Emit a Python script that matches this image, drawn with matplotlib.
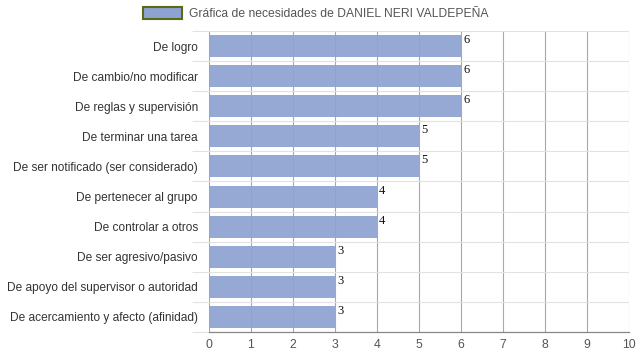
import matplotlib.pyplot as plt
import numpy as np

categorias = [
    "De logro",
    "De cambio/no modificar",
    "De reglas y supervisión",
    "De terminar una tarea",
    "De ser notificado (ser considerado)",
    "De pertenecer al grupo",
    "De controlar a otros",
    "De ser agresivo/pasivo",
    "De apoyo del supervisor o autoridad",
    "De acercamiento y afecto (afinidad)",
]
valores = [6, 6, 6, 5, 5, 4, 4, 3, 3, 3]
serie = "Gráfica de necesidades de DANIEL NERI VALDEPEÑA"

plt.rcParams['font.family'] = ['Liberation Sans', 'DejaVu Sans']

fig = plt.figure(figsize=(6.39, 3.6), dpi=100)
ax = fig.add_axes([209 / 639, 1 - 332 / 360, 420 / 639, 301 / 360])

y = np.arange(len(categorias))
bars = ax.barh(y, valores, height=0.73, color='#8ea3d2', alpha=0.93,
               edgecolor='none', zorder=3, label=serie)

for yi, v in zip(y, valores):
    ax.text(v + 0.05, yi - 0.2, str(v), fontsize=9, family='Liberation Serif',
            color='#111111', va='center', ha='left', zorder=5)

ax.set_xlim(0, 10)
ax.set_ylim(len(categorias) - 0.5, -0.5)
ax.set_xticks(range(11))
ax.set_yticks(y)
ax.set_yticklabels(categorias, fontsize=8.6, color='#333333')
ax.set_yticks(np.arange(-0.5, len(categorias), 1), minor=True)
ax.tick_params(axis='y', which='major', length=0, pad=8)
ax.tick_params(axis='y', which='minor', length=12, color='#e2e2e2', width=0.8)
ax.tick_params(axis='x', length=0, pad=5, labelsize=8.8, labelcolor='#555555')

ax.grid(axis='x', color='#a8a8a8', linewidth=0.8, zorder=1)
ax.grid(axis='y', which='minor', color='#e2e2e2', linewidth=0.8, zorder=1)
ax.grid(axis='y', which='major', visible=False)

for s in ['top', 'right', 'left']:
    ax.spines[s].set_visible(False)
ax.spines['bottom'].set_color('#888888')
ax.spines['bottom'].set_linewidth(0.9)

leg = fig.legend(handles=[bars], labels=[serie], loc='upper left',
                 bbox_to_anchor=(143 / 639, 1 - 7 / 360), frameon=False,
                 fontsize=8.7, borderpad=0, borderaxespad=0,
                 handlelength=3.2, handleheight=1.1, handletextpad=0.6)
for t in leg.get_texts():
    t.set_color('#555555')
leg.legend_handles[0].set_edgecolor('#5b6a14')
leg.legend_handles[0].set_linewidth(1.5)
leg.legend_handles[0].set_alpha(1)

fig.savefig('out.png', dpi=100)
